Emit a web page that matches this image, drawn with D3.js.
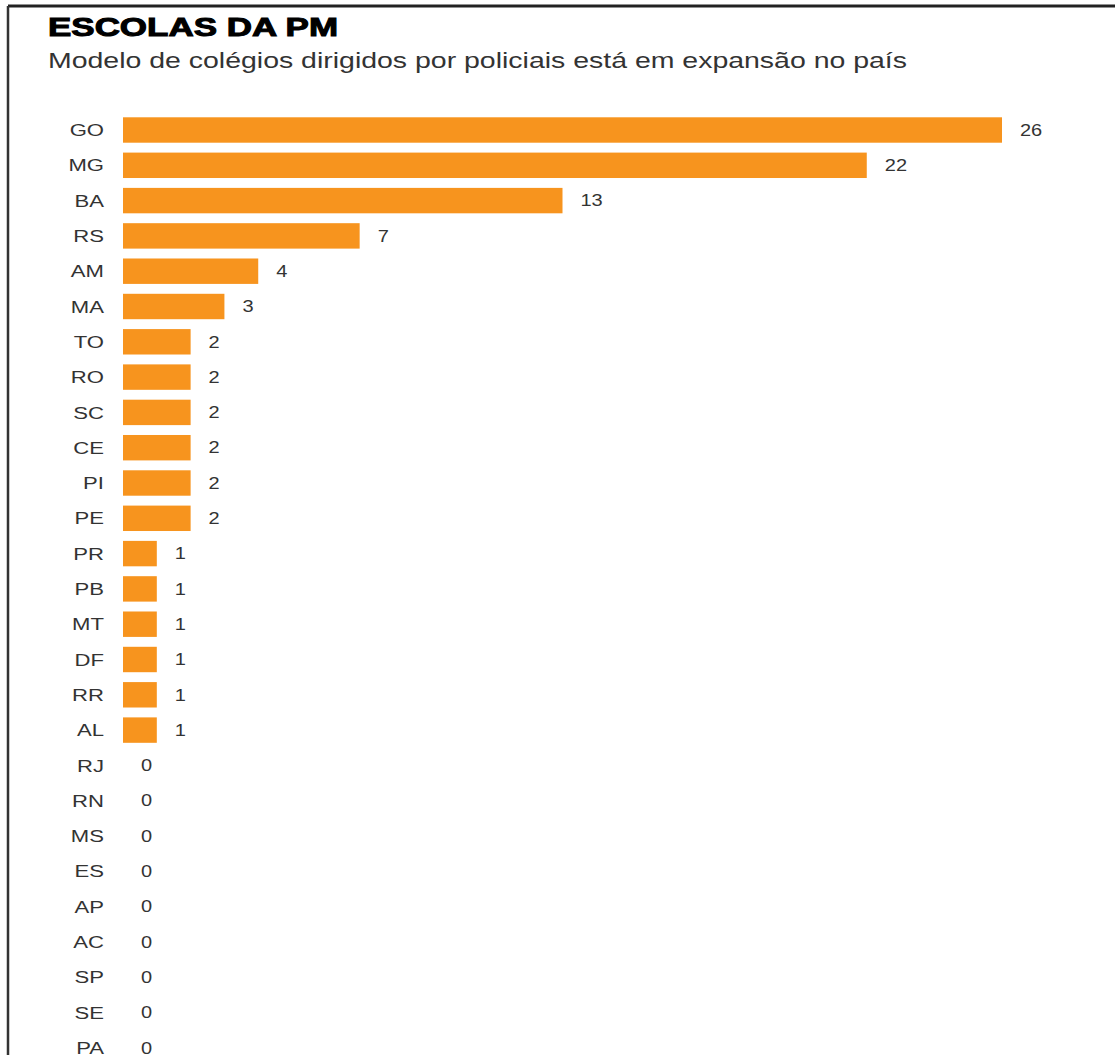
<!DOCTYPE html>
<html>
<head>
<meta charset="utf-8">
<script src="https://cdn.jsdelivr.net/npm/d3@7"></script>
<style>
  body { margin: 0; background: #fff; }
  text { font-family: "Liberation Sans", Arial, sans-serif; }
</style>
</head>
<body>
<script>
var states = ["GO","MG","BA","RS","AM","MA","TO","RO","SC","CE","PI","PE","PR","PB","MT","DF","RR","AL","RJ","RN","MS","ES","AP","AC","SP","SE","PA"];
var schools = [26,22,13,7,4,3,2,2,2,2,2,2,1,1,1,1,1,1,0,0,0,0,0,0,0,0,0];
var title = "ESCOLAS DA PM";
var subtitle = "Modelo de colégios dirigidos por policiais está em expansão no país";

var width = 1115,
    height = 1055;

var svg = d3.select("body").append("svg")
    .attr("width", width)
    .attr("height", height);

// frame
svg.append("line").attr("x1", 8).attr("x2", width).attr("y1", 6).attr("y2", 6)
    .attr("stroke", "#222").attr("stroke-width", 3);
svg.append("line").attr("x1", 8).attr("x2", 8).attr("y1", 6).attr("y2", height)
    .attr("stroke", "#333").attr("stroke-width", 2.5);

svg.append("text")
    .attr("x", 48).attr("y", 36)
    .attr("textLength", 290).attr("lengthAdjust", "spacingAndGlyphs")
    .style("font-size", "26px").style("font-weight", "900")
    .attr("fill", "#000").attr("stroke", "#000").attr("stroke-width", 1)
    .text(title);

svg.append("text")
    .attr("x", 48).attr("y", 68)
    .attr("textLength", 859).attr("lengthAdjust", "spacingAndGlyphs")
    .style("font-size", "22px")
    .attr("fill", "#333")
    .text(subtitle);

var x = d3.scaleLinear().domain([0, 26]).range([123, 1002]);
var y = d3.scaleBand().domain(states).range([112.35, 1065.45])
    .paddingInner(0.28).paddingOuter(0.14);

var data = states.map(function(s, i){ return {uf: s, n: schools[i]}; });

var row = svg.selectAll("g.row")
    .data(data)
    .enter().append("g")
    .attr("class", "row");

row.append("rect")
    .attr("x", x(0))
    .attr("y", function(d){ return y(d.uf); })
    .attr("width", function(d){ return x(d.n) - x(0); })
    .attr("height", y.bandwidth())
    .attr("fill", "#f7941e");

row.append("text")
    .attr("transform", function(d){ return "translate(104," + (y(d.uf) + y.bandwidth()/2) + ") scale(1.3,1)"; })
    .attr("dy", "0.36em")
    .attr("text-anchor", "end")
    .style("font-size", "17px")
    .attr("fill", "#333")
    .text(function(d){ return d.uf; });

row.append("text")
    .attr("transform", function(d){ return "translate(" + (x(d.n) + 18) + "," + (y(d.uf) + y.bandwidth()/2) + ") scale(1.25,1)"; })
    .attr("dy", "0.36em")
    .style("font-size", "16px")
    .attr("fill", "#333")
    .text(function(d){ return d.n; });
</script>
</body>
</html>
